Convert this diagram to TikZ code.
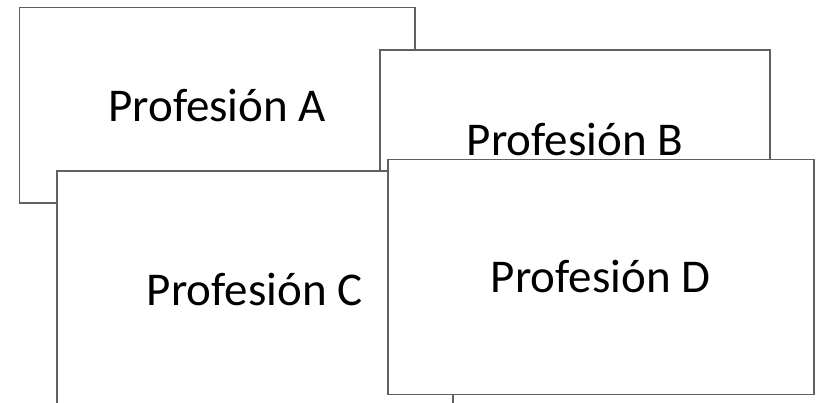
\documentclass[tikz,border=0pt]{standalone}
\usepackage{fontspec}
\setmainfont{Carlito}
\definecolor{boxline}{HTML}{606060}
\begin{document}
\begin{tikzpicture}[x=1pt,y=-1pt,
  card/.style={draw=boxline, line width=1.8pt, fill=white, anchor=north west,
    inner sep=0pt, align=center, font=\fontsize{47}{56}\selectfont}]
\useasboundingbox (0,0) rectangle (817,402);
\clip (0,0) rectangle (817,402);
\node[card, minimum width=395.5pt, minimum height=195.5pt] (A) at (18.5,6.5) {Profesión A};
\node[card, minimum width=390pt, minimum height=180pt] (B) at (379,49) {Profesión B};
\node[card, minimum width=396.3pt, minimum height=238pt] (C) at (55.7,170) {Profesión C};
\node[card, minimum width=426pt, minimum height=235pt] (D) at (386.7,158.5) {Profesión D};
\end{tikzpicture}
\end{document}
